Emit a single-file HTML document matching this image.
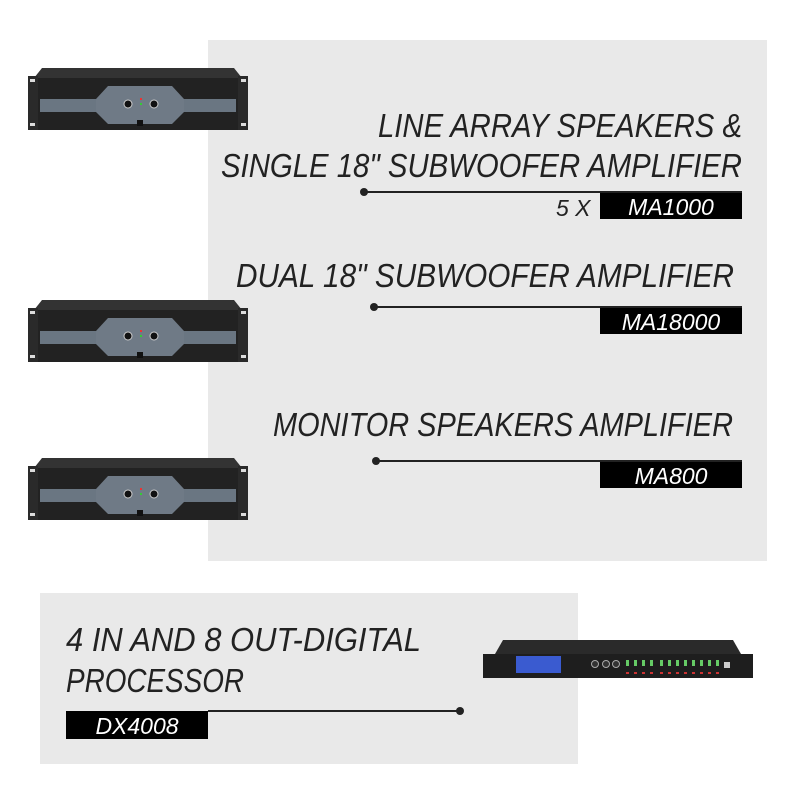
<!DOCTYPE html>
<html><head><meta charset="utf-8"><style>
html,body{margin:0;padding:0;background:#fff;width:800px;height:800px;overflow:hidden}
svg{display:block}
text{font-family:"Liberation Sans",sans-serif;font-style:italic}
</style></head><body>
<svg width="800" height="800" viewBox="0 0 800 800" xmlns="http://www.w3.org/2000/svg">
<defs>
<g id="amp">
  <polygon points="14,0 206,0 214,10 6,10" fill="#333"/>
  <rect x="0" y="10" width="220" height="52" fill="#222"/>
  <rect x="0" y="8" width="10" height="54" fill="#2a2a2a"/>
  <rect x="210" y="8" width="10" height="54" fill="#2a2a2a"/>
  <rect x="2" y="11" width="5" height="3" fill="#ddd"/>
  <rect x="2" y="55" width="5" height="3" fill="#ddd"/>
  <rect x="213" y="11" width="5" height="3" fill="#ddd"/>
  <rect x="213" y="55" width="5" height="3" fill="#ddd"/>
  <rect x="12" y="31" width="196" height="13" fill="#6a7682"/>
  <polygon points="80,18 144,18 156,31 156,44 144,56 80,56 68,44 68,31" fill="#6f7a86"/>
  <circle cx="100" cy="36" r="4" fill="#111" stroke="#ccc" stroke-width="1"/>
  <circle cx="126" cy="36" r="4" fill="#111" stroke="#ccc" stroke-width="1"/>
  <rect x="112" y="30" width="2" height="2" fill="#e33"/>
  <rect x="112" y="35" width="2" height="2" fill="#3c3"/>
  <rect x="109" y="52" width="6" height="6" fill="#111"/>
</g>
</defs>
<rect x="208" y="40" width="559" height="521" fill="#e9e9e9"/>
<rect x="40" y="593" width="538" height="171" fill="#e9e9e9"/>

<use href="#amp" x="28" y="68"/>
<use href="#amp" x="28" y="300"/>
<use href="#amp" x="28" y="458"/>

<text x="742" y="137" font-size="33" fill="#222" text-anchor="end" textLength="364" lengthAdjust="spacingAndGlyphs">LINE ARRAY SPEAKERS &amp;</text>
<text x="742" y="177" font-size="33" fill="#222" text-anchor="end" textLength="521" lengthAdjust="spacingAndGlyphs">SINGLE 18" SUBWOOFER AMPLIFIER</text>
<line x1="364" y1="192" x2="742" y2="192" stroke="#222" stroke-width="2"/>
<circle cx="364" cy="192" r="4" fill="#222"/>
<text x="556" y="216" font-size="23" fill="#222">5 X</text>
<rect x="600" y="193" width="142" height="26" fill="#000"/>
<text x="671" y="215" font-size="23" fill="#fff" text-anchor="middle">MA1000</text>

<text x="734" y="287" font-size="33" fill="#222" text-anchor="end" textLength="498" lengthAdjust="spacingAndGlyphs">DUAL 18" SUBWOOFER AMPLIFIER</text>
<line x1="374" y1="307" x2="742" y2="307" stroke="#222" stroke-width="2"/>
<circle cx="374" cy="307" r="4" fill="#222"/>
<rect x="600" y="308" width="142" height="26" fill="#000"/>
<text x="671" y="330" font-size="23" fill="#fff" text-anchor="middle">MA18000</text>

<text x="733" y="436" font-size="33" fill="#222" text-anchor="end" textLength="460" lengthAdjust="spacingAndGlyphs">MONITOR SPEAKERS AMPLIFIER</text>
<line x1="376" y1="461" x2="742" y2="461" stroke="#222" stroke-width="2"/>
<circle cx="376" cy="461" r="4" fill="#222"/>
<rect x="600" y="462" width="142" height="26" fill="#000"/>
<text x="671" y="484" font-size="23" fill="#fff" text-anchor="middle">MA800</text>

<text x="66" y="651" font-size="33" fill="#222" textLength="355" lengthAdjust="spacingAndGlyphs">4 IN AND 8 OUT-DIGITAL</text>
<text x="66" y="692" font-size="33" fill="#222" textLength="178" lengthAdjust="spacingAndGlyphs">PROCESSOR</text>
<line x1="208" y1="711" x2="460" y2="711" stroke="#222" stroke-width="2"/>
<circle cx="460" cy="711" r="4" fill="#222"/>
<rect x="66" y="711" width="142" height="28" fill="#000"/>
<text x="137" y="734" font-size="23" fill="#fff" text-anchor="middle">DX4008</text>

<g transform="translate(483,640)">
  <polygon points="20,0 250,0 258,14 12,14" fill="#2a2a2a"/>
  <rect x="0" y="14" width="270" height="24" fill="#1e1e1e"/>
  <rect x="33" y="16" width="45" height="17" fill="#3a5bd0"/>
  <circle cx="112" cy="24" r="3.5" fill="#333" stroke="#aaa"/>
  <circle cx="123" cy="24" r="3.5" fill="#333" stroke="#aaa"/>
  <circle cx="133" cy="24" r="3.5" fill="#333" stroke="#aaa"/>
  <g fill="#c33">
    <rect x="143" y="32" width="3" height="2"/><rect x="151" y="32" width="3" height="2"/><rect x="159" y="32" width="3" height="2"/><rect x="167" y="32" width="3" height="2"/>
    <rect x="177" y="32" width="3" height="2"/><rect x="185" y="32" width="3" height="2"/><rect x="193" y="32" width="3" height="2"/><rect x="201" y="32" width="3" height="2"/>
    <rect x="209" y="32" width="3" height="2"/><rect x="217" y="32" width="3" height="2"/><rect x="225" y="32" width="3" height="2"/><rect x="233" y="32" width="3" height="2"/>
  </g>
  <g fill="#6c6">
    <rect x="143" y="20" width="3" height="6"/><rect x="151" y="20" width="3" height="6"/><rect x="159" y="20" width="3" height="6"/><rect x="167" y="20" width="3" height="6"/>
    <rect x="177" y="20" width="3" height="6"/><rect x="185" y="20" width="3" height="6"/><rect x="193" y="20" width="3" height="6"/><rect x="201" y="20" width="3" height="6"/>
    <rect x="209" y="20" width="3" height="6"/><rect x="217" y="20" width="3" height="6"/><rect x="225" y="20" width="3" height="6"/><rect x="233" y="20" width="3" height="6"/>
  </g>
  <rect x="241" y="22" width="6" height="6" fill="#ccc"/>
</g>
</svg>
</body></html>
